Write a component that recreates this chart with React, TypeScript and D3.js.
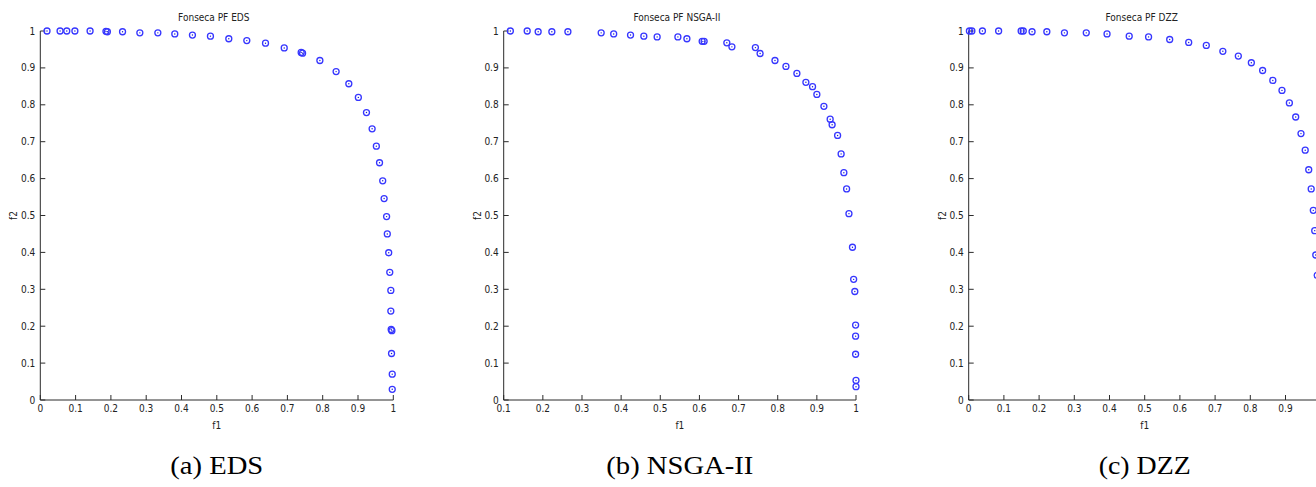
import React from "react";
import * as d3 from "d3";

// ---------- data ----------
const edsF1 = [0.019, 0.056, 0.075, 0.098, 0.141, 0.186, 0.19, 0.233, 0.282, 0.333, 0.381, 0.431, 0.482, 0.534, 0.585, 0.638, 0.691, 0.739, 0.743, 0.792, 0.838, 0.874, 0.901, 0.924, 0.94, 0.952, 0.961, 0.97, 0.974, 0.981, 0.983, 0.987, 0.99, 0.993, 0.993, 0.994, 0.996, 0.995, 0.997, 0.997];
const edsF2 = [1.0, 1.0, 1.0, 1.0, 1.0, 0.999, 0.998, 0.998, 0.995, 0.995, 0.992, 0.989, 0.986, 0.979, 0.974, 0.967, 0.954, 0.942, 0.94, 0.92, 0.89, 0.857, 0.82, 0.779, 0.735, 0.688, 0.643, 0.594, 0.546, 0.497, 0.45, 0.399, 0.346, 0.297, 0.241, 0.191, 0.188, 0.126, 0.07, 0.029];

const nsgaF1 = [0.117, 0.16, 0.188, 0.223, 0.264, 0.349, 0.381, 0.424, 0.458, 0.492, 0.545, 0.568, 0.607, 0.612, 0.67, 0.683, 0.743, 0.755, 0.793, 0.821, 0.849, 0.872, 0.889, 0.9, 0.918, 0.934, 0.939, 0.953, 0.962, 0.969, 0.976, 0.982, 0.991, 0.994, 0.997, 0.999, 0.999, 0.999, 1.0, 1.0];
const nsgaF2 = [1.0, 1.0, 0.998, 0.998, 0.998, 0.995, 0.992, 0.989, 0.986, 0.984, 0.984, 0.979, 0.972, 0.972, 0.968, 0.957, 0.955, 0.939, 0.92, 0.904, 0.885, 0.861, 0.849, 0.828, 0.796, 0.761, 0.746, 0.717, 0.667, 0.616, 0.572, 0.505, 0.414, 0.327, 0.294, 0.203, 0.173, 0.124, 0.053, 0.036];

const dzzF1 = [0.002, 0.009, 0.039, 0.085, 0.149, 0.155, 0.18, 0.222, 0.272, 0.334, 0.393, 0.456, 0.511, 0.571, 0.625, 0.675, 0.722, 0.766, 0.803, 0.835, 0.864, 0.89, 0.911, 0.929, 0.944, 0.956, 0.966, 0.973, 0.979, 0.983, 0.986, 0.99];
const dzzF2 = [1.0, 1.0, 1.0, 1.0, 1.0, 1.0, 0.998, 0.998, 0.995, 0.995, 0.992, 0.986, 0.984, 0.977, 0.969, 0.961, 0.945, 0.932, 0.914, 0.893, 0.866, 0.839, 0.805, 0.767, 0.722, 0.677, 0.624, 0.572, 0.514, 0.459, 0.393, 0.338];

const titles = ["Fonseca PF EDS", "Fonseca PF NSGA-II", "Fonseca PF DZZ"];
const captions = ["(a) EDS", "(b) NSGA-II", "(c) DZZ"];
const xTicks01 = [0, 0.1, 0.2, 0.3, 0.4, 0.5, 0.6, 0.7, 0.8, 0.9, 1];
const xTicksNsga = [0.1, 0.2, 0.3, 0.4, 0.5, 0.6, 0.7, 0.8, 0.9, 1];
const yTicks = [0, 0.1, 0.2, 0.3, 0.4, 0.5, 0.6, 0.7, 0.8, 0.9, 1];
const xLabel = "f1";
const yLabel = "f2";

// ---------- layout ----------
const W = 1316;
const H = 487;
const Y0 = 400;
const Y1 = 31;
const panels = [
  { x0: 40.3, x1: 393.3, domain: [0, 1], xTicks: xTicks01, f1: edsF1, f2: edsF2, capLen: 93 },
  { x0: 503.7, x1: 856, domain: [0.1, 1], xTicks: xTicksNsga, f1: nsgaF1, f2: nsgaF2, capLen: 147 },
  { x0: 968.7, x1: 1320.7, domain: [0, 1], xTicks: xTicks01, f1: dzzF1, f2: dzzF2, capLen: 92 },
];

const tickFont = "'Liberation Sans Narrow', 'DejaVu Sans Condensed', 'Arial Narrow', sans-serif";
const fmt = (v: number) => (v === 0 || v === 1 ? String(v) : d3.format(".1f")(v));

function Panel({ p, i }: { p: any; i: number }) {
  const x = d3.scaleLinear().domain(p.domain).range([p.x0, p.x1]);
  const y = d3.scaleLinear().domain([0, 1]).range([Y0, Y1]);
  const cx = (p.x0 + p.x1) / 2;
  const axisColor = "#2b2b2b";
  const tick = 5;
  return (
    <g>
      <text x={cx - 3} y={21} fontFamily={tickFont} fontSize={10} textAnchor="middle" fill="#222">
        {titles[i]}
      </text>
      <line x1={p.x0} x2={p.x1} y1={Y0} y2={Y0} stroke={axisColor} strokeWidth={1} />
      <line x1={p.x0} x2={p.x0} y1={Y0} y2={Y1} stroke={axisColor} strokeWidth={1} />
      {p.xTicks.map((t: number) => (
        <g key={"x" + t}>
          <line x1={x(t)} x2={x(t)} y1={Y0} y2={Y0 - tick} stroke={axisColor} strokeWidth={1} />
          {x(t) + 4 < W && (
            <text x={x(t)} y={412} fontFamily={tickFont} fontSize={10} textAnchor="middle" fill="#222">
              {fmt(t)}
            </text>
          )}
        </g>
      ))}
      {yTicks.map((t) => (
        <g key={"y" + t}>
          <line x1={p.x0} x2={p.x0 + tick} y1={y(t)} y2={y(t)} stroke={axisColor} strokeWidth={1} />
          <text x={p.x0 - 5} y={y(t) + 3.5} fontFamily={tickFont} fontSize={10} textAnchor="end" fill="#222">
            {fmt(t)}
          </text>
        </g>
      ))}
      <text x={cx} y={428.5} fontFamily={tickFont} fontSize={10} textAnchor="middle" fill="#222">
        {xLabel}
      </text>
      <text
        transform={`translate(${p.x0 - 23},${(Y0 + Y1) / 2}) rotate(-90)`}
        fontFamily={tickFont}
        fontSize={10}
        textAnchor="middle"
        fill="#222"
      >
        {yLabel}
      </text>
      {p.f1.map((v: number, k: number) => (
        <g key={"p" + k}>
          <circle cx={x(v)} cy={y(p.f2[k])} r={3} fill="none" stroke="#3636ff" strokeWidth={1.3} />
          <circle cx={x(v)} cy={y(p.f2[k])} r={0.7} fill="#1a1acc" />
        </g>
      ))}
      <text
        x={cx}
        y={474}
        fontFamily="'Liberation Serif', 'DejaVu Serif', serif"
        fontSize={26}
        textAnchor="middle"
        textLength={p.capLen}
        lengthAdjust="spacingAndGlyphs"
        fill="#000"
      >
        {captions[i]}
      </text>
    </g>
  );
}

export default function App() {
  return (
    <svg
      width={W}
      height={H}
      style={{ position: "absolute", left: 0, top: 0, background: "#fff", display: "block" }}
    >
      <rect x={0} y={0} width={W} height={H} fill="#fff" />
      {panels.map((p, i) => (
        <Panel key={i} p={p} i={i} />
      ))}
    </svg>
  );
}
